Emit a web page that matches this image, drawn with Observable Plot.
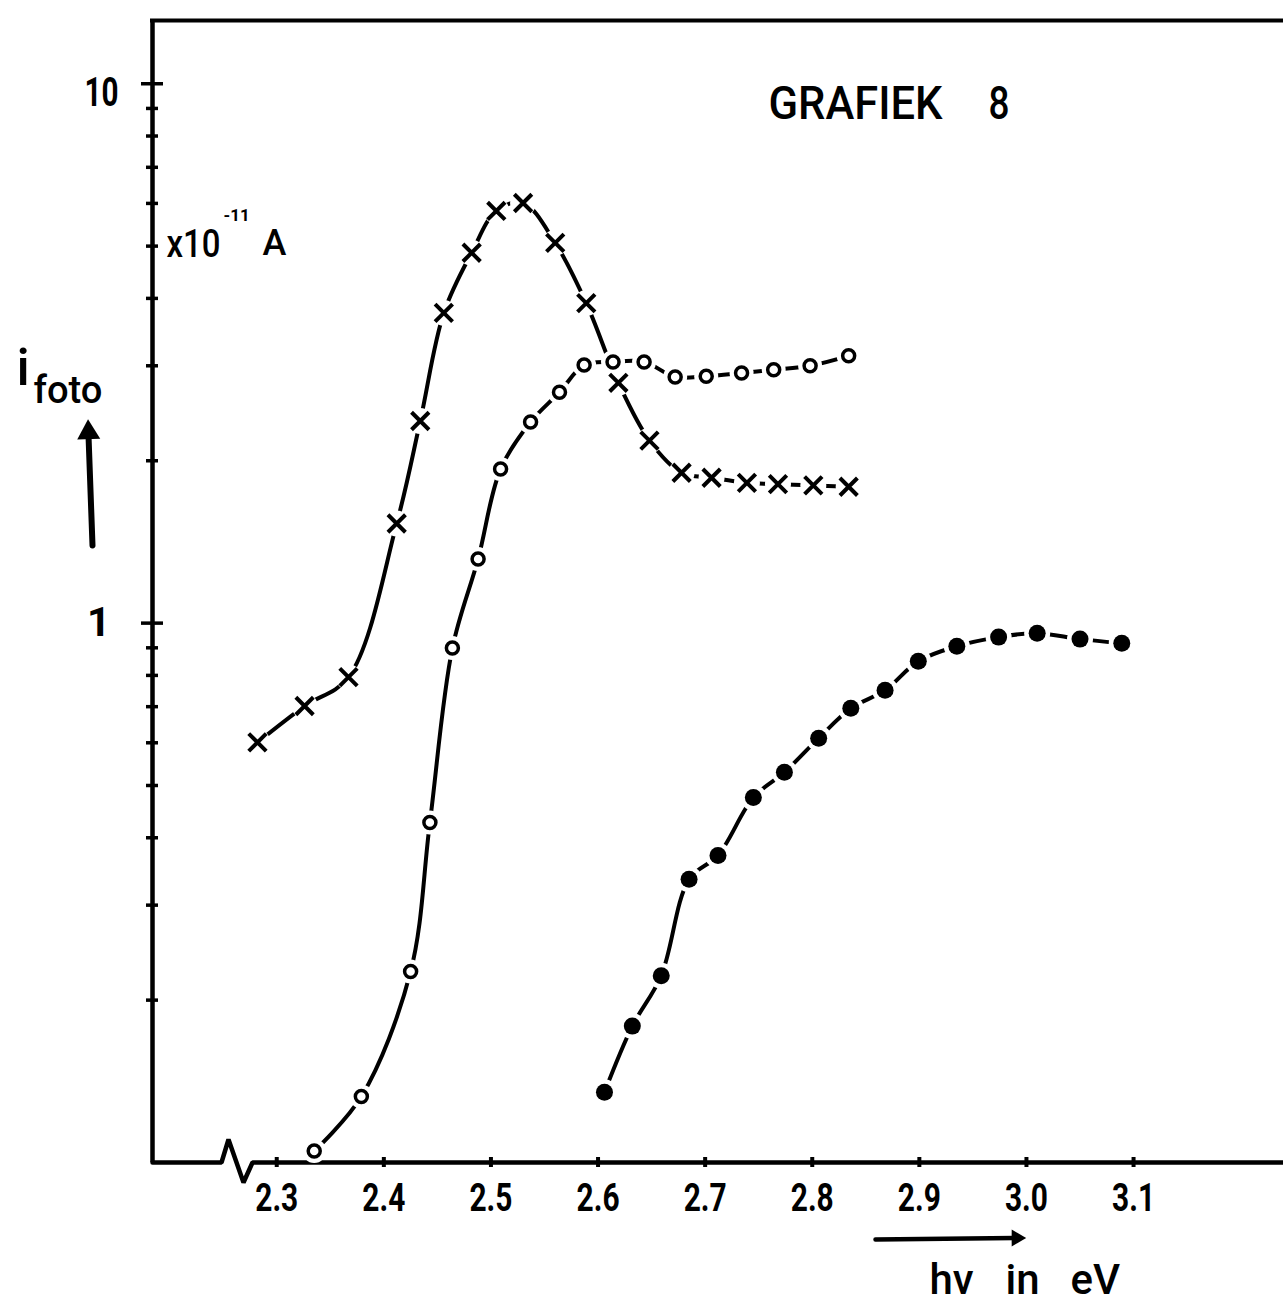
<!DOCTYPE html>
<html><head><meta charset="utf-8">
<script src="https://cdn.jsdelivr.net/npm/d3@7"></script>
<script src="https://cdn.jsdelivr.net/npm/@observablehq/plot@0.6"></script>
<style>
html,body{margin:0;padding:0;background:#fff;}
#chart svg{display:block;}
</style>
</head><body><div id="chart"></div>
<script>
// ---- data (photon energy hν in eV, photocurrent in units of 1e-11 A) ----
const crossE  = [2.282,2.326,2.367,2.412,2.434,2.456,2.482,2.505,2.530,2.560,2.589,2.619,2.648,2.678,2.706,2.739,2.768,2.801,2.834];
const crossI  = [0.601,0.702,0.794,1.53,2.37,3.76,4.86,5.81,6.01,5.07,3.92,2.79,2.18,1.90,1.86,1.82,1.81,1.80,1.79];
const openE   = [2.335,2.379,2.425,2.443,2.464,2.488,2.509,2.537,2.564,2.587,2.614,2.643,2.672,2.701,2.734,2.764,2.798,2.834];
const openI   = [0.105,0.1325,0.226,0.427,0.899,1.315,1.93,2.36,2.68,3.01,3.05,3.05,2.86,2.87,2.91,2.95,3.00,3.13];
const filledE = [2.606,2.632,2.659,2.685,2.712,2.745,2.774,2.806,2.836,2.868,2.899,2.935,2.974,3.010,3.050,3.089];
const filledI = [0.135,0.179,0.222,0.335,0.371,0.475,0.529,0.612,0.695,0.751,0.850,0.906,0.942,0.958,0.934,0.918];

const xTicks = [2.3,2.4,2.5,2.6,2.7,2.8,2.9,3.0,3.1];
const xTickLabels = ["2.3","2.4","2.5","2.6","2.7","2.8","2.9","3.0","3.1"];
const yMinorTicks = [0.2,0.3,0.4,0.5,0.6,0.7,0.8,0.9,2,3,4,5,6,7,8,9];
const yMajorTicks = [1,10];
const yMajorLabels = ["1","10"];

const titleWord = "GRAFIEK", titleNum = "8";
const unitBase = "x10", unitExp = "-11", unitA = "A";
const yLabelMain = "i", yLabelSub = "foto";
const xLabelWords = ["hv","in","eV"];

// ---- layout ----
const W = 1283, H = 1304;
const mL = 152, mR = 0, mT = 20, mB = 142;
const xDomain = [2.184, 3.240];
const yDomain = [0.1, 13.1];
const kx = (W - mL - mR) / (xDomain[1] - xDomain[0]);
const ky = (H - mT - mB) / Math.log10(yDomain[1] / yDomain[0]);
const xAt = px => xDomain[0] + (px - mL) / kx;
const yAt = py => yDomain[1] * 10 ** (-(py - mT) / ky);
const dX = dpx => dpx / kx;
const yMul = dpx => 10 ** (-dpx / ky);

const toRows = (E, I) => E.map((e, k) => ({e, i: I[k]}));
const crossData = toRows(crossE, crossI);
const openData = toRows(openE, openI);
const filledData = toRows(filledE, filledI);

const x0 = xDomain[0], yb = yDomain[0];
const brk = xAt(221);
const bottomAxis = [
  [x0, yb], [brk, yb], [brk + dX(7), yb * yMul(-23)], [brk + dX(22), yb * yMul(20)],
  [brk + dX(31), yb], [xDomain[1], yb]
];

const FONT = "Roboto, 'Liberation Sans', sans-serif";
const txt = (s, px, py, size, extra = {}) => Plot.text([s], {
  frameAnchor: "top-left", dx: px - mL, dy: py - mT, text: d => d,
  textAnchor: "start", lineAnchor: "bottom", fontSize: size,
  fontFamily: FONT, fontWeight: 500, fill: "#000", ...extra
});

const LW = 4;
const plot = Plot.plot({
  width: W, height: H,
  marginLeft: mL, marginRight: mR, marginTop: mT, marginBottom: mB,
  x: {domain: xDomain, axis: null},
  y: {type: "log", domain: yDomain, axis: null},
  style: {background: "#fff", overflow: "visible"},
  marks: [
    // frame
    Plot.ruleX([x0], {y1: yb, y2: yDomain[1], stroke: "#000", strokeWidth: 4.5}),
    Plot.ruleY([yDomain[1]], {x1: x0 - dX(2), x2: xDomain[1], stroke: "#000", strokeWidth: 4}),
    Plot.line(bottomAxis, {x: d => d[0], y: d => d[1], stroke: "#000", strokeWidth: 4.5, strokeLinejoin: "miter"}),
    // ticks
    Plot.ruleX(xTicks, {x: d => d, y1: yb * yMul(5), y2: yb * yMul(-5), stroke: "#000", strokeWidth: 4}),
    Plot.ruleY(yMinorTicks, {y: d => d, x1: x0 - dX(6), x2: x0 + dX(6), stroke: "#000", strokeWidth: 3.5}),
    Plot.ruleY(yMajorTicks, {y: d => d, x1: x0 - dX(11), x2: x0 + dX(11), stroke: "#000", strokeWidth: 3.5}),
    // tick labels
    Plot.text(xTicks, {x: d => d, y: yb, text: (d, k) => xTickLabels[k], dy: 36, fontSize: 39,
      fontFamily: FONT, fontWeight: 700, fill: "#000", lineAnchor: "middle"}),
    Plot.text([yMajorTicks[1]], {x: x0, y: d => d, text: () => yMajorLabels[1], dx: -34, dy: 9,
      textAnchor: "end", lineAnchor: "middle", fontSize: 41, fontFamily: FONT, fontWeight: 700, fill: "#000"}),
    Plot.text([yMajorTicks[0]], {x: x0, y: d => d, text: () => yMajorLabels[0], dx: -42, dy: 0,
      textAnchor: "end", lineAnchor: "middle", fontSize: 41, fontFamily: FONT, fontWeight: 700, fill: "#000"}),
    // curves
    Plot.line(crossData, {x: "e", y: "i", curve: "catmull-rom", stroke: "#000", strokeWidth: LW}),
    Plot.line(openData, {x: "e", y: "i", curve: "catmull-rom", stroke: "#000", strokeWidth: LW}),
    Plot.line(filledData, {x: "e", y: "i", curve: "catmull-rom", stroke: "#000", strokeWidth: LW}),
    // halos that break the curve near each marker
    Plot.dot(crossData, {x: "e", y: "i", r: 13, fill: "#fff"}),
    Plot.dot(openData, {x: "e", y: "i", r: 12, fill: "#fff"}),
    Plot.dot(filledData, {x: "e", y: "i", r: 13, fill: "#fff"}),
    // markers
    Plot.dot(crossData, {x: "e", y: "i", symbol: "times", r: 8, stroke: "#000", strokeWidth: 4}),
    Plot.dot(openData, {x: "e", y: "i", r: 6, fill: "#fff", stroke: "#000", strokeWidth: 3.5}),
    Plot.dot(filledData, {x: "e", y: "i", r: 8.5, fill: "#000"}),
    // annotations
    txt(titleWord, 768, 118, 46),
    txt(titleNum, 988, 118, 46),
    txt(unitBase, 166, 256, 38),
    txt(unitExp, 223, 220, 17, {fontWeight: 700}),
    txt(unitA, 262, 254, 36),
    txt(yLabelMain, 16, 384, 52),
    txt(yLabelSub, 33, 402, 38),
    // y-label arrow (shaft + filled head)
    Plot.link([0], {x1: () => xAt(92), y1: () => yAt(545), x2: () => xAt(88), y2: () => yAt(435),
      stroke: "#000", strokeWidth: 6, strokeLinecap: "round"}),
    Plot.dot([0], {x: () => xAt(88), y: () => yAt(432), symbol: "triangle2", r: 11, fill: "#000", rotate: -2}),
    // x-label arrow
    Plot.link([0], {x1: () => xAt(875), y1: () => yAt(1239), x2: () => xAt(1014), y2: () => yAt(1237.5),
      stroke: "#000", strokeWidth: 4.5, strokeLinecap: "round"}),
    Plot.dot([0], {x: () => xAt(1016), y: () => yAt(1237.5), symbol: "triangle2", r: 8, fill: "#000", rotate: 90}),
    txt(xLabelWords[0], 929, 1293, 42),
    txt(xLabelWords[1], 1005, 1293, 42),
    txt(xLabelWords[2], 1070, 1293, 42)
  ]
});

const fitWidths = new Map([
  [titleWord, 174], [titleNum, 21], [unitBase, 54], ["10", 34], [yLabelSub, 69],
  ...xTickLabels.map(l => [l, 43])
]);
plot.querySelectorAll("text").forEach(t => {
  const w = fitWidths.get(t.textContent);
  if (w) { t.setAttribute("textLength", w); t.setAttribute("lengthAdjust", "spacingAndGlyphs"); }
});
document.getElementById("chart").appendChild(plot);
</script>
</body></html>
